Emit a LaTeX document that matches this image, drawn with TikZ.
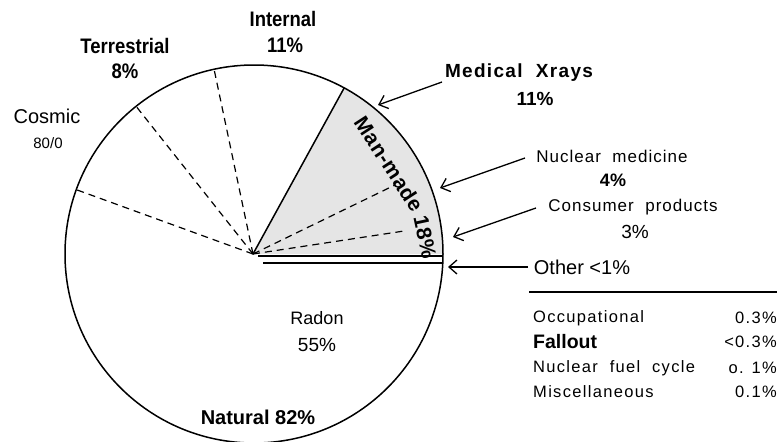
\documentclass[tikz,border=0pt]{standalone}
\usepackage{fontspec}
\setmainfont{Liberation Sans}
\newfontfamily\nbf[FakeStretch=0.88]{Liberation Sans}
\newfontfamily\lsp[LetterSpace=6]{Liberation Sans}
\newfontfamily\tsp[LetterSpace=8]{Liberation Sans}
\newfontfamily\lspb[LetterSpace=7]{Liberation Sans}
\newfontfamily\mmf[LetterSpace=3]{Liberation Sans}
\usetikzlibrary{arrows.meta,calc}
\newcommand\fsz[1]{\fontsize{#1}{#1}\selectfont}
\begin{document}
\begin{tikzpicture}[x=1pt,y=1pt,
  lbl/.style={inner sep=0pt, anchor=center},
  hb/.style={lbl, font=\nbf\bfseries\fsz{21}},
  spc/.style={lbl, font=\lsp\fsz{17}},
  tab/.style={inner sep=0pt, anchor=west, font=\tsp\fsz{16.5}},
  val/.style={inner sep=0pt, anchor=east, font=\tsp\fsz{16.5}},
  mm/.style={lbl, font=\mmf\bfseries\fsz{21}},
  ptr/.style={-{Straight Barb[length=8pt,width=14pt]}, line width=1.3pt},
  rim/.style={line width=1.5pt},
  dsh/.style={line width=1.2pt, dash pattern=on 7pt off 5pt}]
\useasboundingbox (0,0) rectangle (777,-442);
\coordinate (C) at (254,-254);
\coordinate (A) at (253,-254);
% man-made wedge
\fill[black!10] (A) -- ($(C)+(0:189pt)$) arc[start angle=0,end angle=61.5,radius=189pt] -- cycle;
\draw[rim] (C) circle[radius=189pt];
\coordinate (M1) at ($(C)+(61.5:189pt)$);
\draw[rim] (A) -- (M1);
% natural dashed
\coordinate (N1) at ($(C)+(102.2:189pt)$);
\coordinate (N2) at ($(C)+(128.6:189pt)$);
\coordinate (N3) at ($(C)+(160.1:189pt)$);
\draw[dsh] (A) -- (N1);
\draw[dsh] (A) -- (N2);
\draw[dsh] (A) -- (N3);
% man-made dashed
\coordinate (D1) at (395,-185);
\coordinate (D2) at (404,-231);
\draw[dsh] (A) -- (D1);
\draw[dsh] (A) -- (D2);
% other lines
\coordinate (T1) at (258,-256);
\coordinate (T2) at (443,-256);
\draw[line width=2.6pt] (T1) -- (T2);
\coordinate (S1) at (263,-263);
\coordinate (S2) at (443,-263);
\draw[line width=1.2pt] (S1) -- (S2);
% man-made text
\node[mm, rotate=-57] (mm1) at (389,-164) {Man-made};
\node[mm, rotate=-78] (mm2) at (425,-237) {18\%};
% labels
\node[hb] (int) at (283,-19) {Internal};
\node[hb] (int2) at (285,-45) {11\%};
\node[hb] (ter) at (125,-46) {Terrestrial};
\node[hb] (ter2) at (125,-71) {8\%};
\node[lbl, font=\fsz{20}] (cos) at (47,-116) {Cosmic};
\node[lbl, font=\fsz{15}] (cos2) at (48,-143) {80/0};
\node[lbl, font=\lspb\bfseries\fsz{19}] (med) at (519,-73) {Medical\ \ Xrays};
\node[lbl, font=\bfseries\fsz{19}] (med2) at (535,-99) {11\%};
\node[spc] (nuc) at (612,-156) {Nuclear\ \ medicine};
\node[lbl, font=\bfseries\fsz{18}] (nuc2) at (613,-180) {4\%};
\node[spc] (con) at (633,-207) {Consumer\ \ products};
\node[lbl, font=\fsz{19}] (con2) at (635,-232) {3\%};
\node[lbl, font=\fsz{20}] (oth) at (582,-267) {Other <1\%};
\node[lbl, font=\fsz{18}] (rad) at (317,-318) {Radon};
\node[lbl, font=\fsz{19}] (rad2) at (317,-345) {55\%};
\node[lbl, font=\bfseries\fsz{20}] (nat) at (258,-417) {Natural 82\%};
% arrows
\coordinate (a1s) at (442,-82);  \coordinate (a1e) at (378,-105);
\coordinate (a2s) at (525,-158); \coordinate (a2e) at (440,-188);
\coordinate (a3s) at (536,-208); \coordinate (a3e) at (453,-237);
\coordinate (a4s) at (528,-267); \coordinate (a4e) at (448,-267);
\draw[ptr] (a1s) -- (a1e);
\draw[ptr] (a2s) -- (a2e);
\draw[ptr] (a3s) -- (a3e);
\draw[ptr] (a4s) -- (a4e);
% table
\coordinate (R1) at (529,-292);
\coordinate (R2) at (777,-292);
\draw[line width=1.2pt] (R1) -- (R2);
\node[tab] (t1) at (533,-318) {Occupational};
\node[inner sep=0pt, anchor=west, font=\bfseries\fsz{19.5}] (t2) at (533,-342) {Fallout};
\node[tab] (t3) at (533,-368) {Nuclear\ \ fuel\ \ cycle};
\node[tab] (t4) at (533,-392) {Miscellaneous};
\node[val] (v1) at (777,-318) {0.3\%};
\node[val] (v2) at (777,-342) {<0.3\%};
\node[val] (v3) at (777,-368) {o. 1\%};
\node[val] (v4) at (777,-392) {0.1\%};
\end{tikzpicture}
\end{document}
